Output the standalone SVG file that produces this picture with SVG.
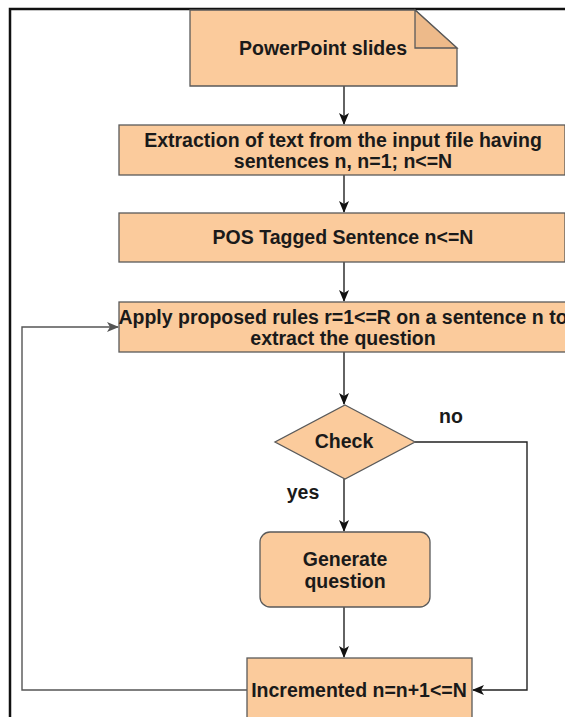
<svg xmlns="http://www.w3.org/2000/svg" width="565" height="717" viewBox="0 0 565 717">
  <style>
    .box { fill: #FBCB9C; stroke: #5a5a5a; stroke-width: 1.3; }
    .fold { fill: #EDBA8A; stroke: #5a5a5a; stroke-width: 1.3; }
    .lbl { font-family: "Liberation Sans", Arial, sans-serif; font-weight: bold; font-size: 19.5px; fill: #1a1a1a; text-anchor: middle; }
    .edge { fill: none; stroke: #222; stroke-width: 1.4; }
    .back { fill: none; stroke: #555; stroke-width: 1.4; }
  </style>
  <defs>
    <marker id="arr" viewBox="0 0 12 12" refX="11" refY="6" markerWidth="12" markerHeight="12" markerUnits="userSpaceOnUse" orient="auto">
      <path d="M0,1 L12,6 L0,11 L3,6 Z" fill="#111"/>
    </marker>
    <marker id="arrGrey" viewBox="0 0 12 12" refX="11" refY="6" markerWidth="12" markerHeight="12" markerUnits="userSpaceOnUse" orient="auto">
      <path d="M0,1 L12,6 L0,11 L3,6 Z" fill="#555"/>
    </marker>
  </defs>

  <rect width="565" height="717" fill="#ffffff"/>

  <!-- outer frame -->
  <path d="M10,717 L10,9 L565,9" fill="none" stroke="#111" stroke-width="2.5"/>

  <!-- connectors -->
  <g id="connectors">
    <path class="edge" d="M344,86 L344,124" marker-end="url(#arr)"/>
    <path class="edge" d="M344,175 L344,212" marker-end="url(#arr)"/>
    <path class="edge" d="M344,262 L344,301" marker-end="url(#arr)"/>
    <path class="edge" d="M344,352 L344,404" marker-end="url(#arr)"/>
    <path class="edge" d="M344,479 L344,531" marker-end="url(#arr)"/>
    <path class="edge" d="M344,607 L344,657" marker-end="url(#arr)"/>
    <path class="edge" d="M415,442 L527,442 L527,690 L473,690" marker-end="url(#arr)"/>
    <path class="back" d="M247,690 L22,690 L22,327 L118,327" marker-end="url(#arrGrey)"/>
    <text class="lbl" x="451" y="423">no</text>
    <text class="lbl" x="303" y="499">yes</text>
  </g>

  <g id="node-slides">
    <path class="box" d="M190,10 L415,10 L457,48 L457,86 L190,86 Z"/>
    <path class="fold" d="M415,10 L415,48 L457,48 Z"/>
    <text class="lbl" x="323" y="55">PowerPoint slides</text>
  </g>

  <g id="node-extract">
    <rect class="box" x="119" y="125" width="446" height="50"/>
    <text class="lbl" x="343" y="147">Extraction of text from the input file having</text>
    <text class="lbl" x="343" y="168">sentences n, n=1; n&lt;=N</text>
  </g>

  <g id="node-pos">
    <rect class="box" x="119" y="213" width="446" height="49"/>
    <text class="lbl" x="343" y="244">POS Tagged Sentence n&lt;=N</text>
  </g>

  <g id="node-apply">
    <rect class="box" x="119" y="302" width="460" height="50"/>
    <text class="lbl" x="343" y="324">Apply proposed rules r=1&lt;=R on a sentence n to</text>
    <text class="lbl" x="343" y="345">extract the question</text>
  </g>

  <g id="node-check">
    <path class="box" d="M345,405 L415,442 L345,479 L275,442 Z"/>
    <text class="lbl" x="344" y="448">Check</text>
  </g>

  <g id="node-generate">
    <rect class="box" x="260" y="532" width="170" height="75" rx="10" ry="10"/>
    <text class="lbl" x="345" y="566">Generate</text>
    <text class="lbl" x="345" y="588">question</text>
  </g>

  <g id="node-increment">
    <rect class="box" x="247" y="658" width="225" height="70"/>
    <text class="lbl" x="359" y="697">Incremented n=n+1&lt;=N</text>
  </g>
</svg>
